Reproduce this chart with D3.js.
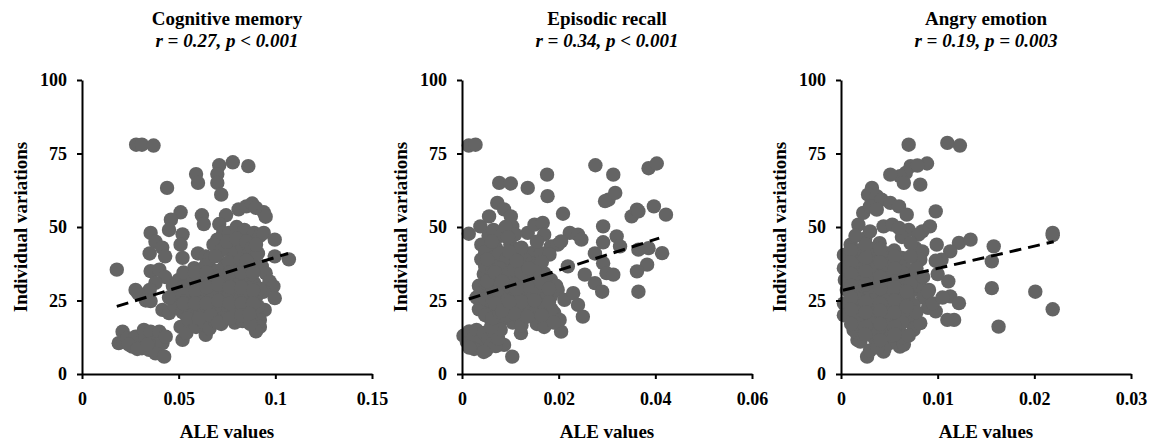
<!DOCTYPE html>
<html><head><meta charset="utf-8">
<script src="https://cdn.jsdelivr.net/npm/d3@7"></script>
<style>
body{margin:0;background:#fff}
text{font-family:"Liberation Serif","Times New Roman",serif;font-weight:bold;fill:#000}
</style>
</head><body><svg id="chart" width="1153" height="441"></svg>
<script>
// ---------- data ----------
const panelTitles = ["Cognitive memory", "Episodic recall", "Angry emotion"];
const panelStats = ["r = 0.27, p < 0.001", "r = 0.34, p < 0.001", "r = 0.19, p = 0.003"];
const xMaxes = [0.15, 0.06, 0.03];
const xTickValues = [[0, 0.05, 0.1, 0.15], [0, 0.02, 0.04, 0.06], [0, 0.01, 0.02, 0.03]];
const xTickLabels = [["0", "0.05", "0.1", "0.15"], ["0", "0.02", "0.04", "0.06"], ["0", "0.01", "0.02", "0.03"]];
const yTickValues = [0, 25, 50, 75, 100];
const xAxisTitle = "ALE values";
const yAxisTitle = "Individual variations";

const cognitiveMemory = [
[0.028,78],[0.031,78],[0.037,77.7],[0.018,35.5],[0.044,63.3],[0.059,68],[0.060,65],
[0.071,71],[0.070,68],[0.070,65],[0.072,61],[0.078,72],[0.086,70.7],[0.0745,54],[0.051,55],
[0.046,52.5],[0.045,49],[0.052,47.5],[0.051,44],[0.052,39.5],[0.0355,48],[0.038,45],[0.0415,43],
[0.043,40],[0.035,41],[0.062,54],[0.063,51],[0.060,41],[0.064,40],[0.066,39],[0.067,35.5],
[0.071,51],[0.073,48],[0.070,45.7],[0.076,48],[0.081,56],[0.085,57],[0.088,58],[0.090,56.5],
[0.094,55],[0.095,53.5],[0.080,50],[0.084,49],[0.089,48],[0.092,47],[0.094,48],[0.0997,45.7],
[0.0997,40],[0.107,39],[0.076,43.4],[0.078,41],[0.083,43.4],[0.086,40.6],[0.0745,37.7],[0.078,36.6],
[0.088,37.7],[0.093,36.6],[0.095,34.3],[0.097,31.5],[0.099,29.8],[0.094,28],[0.0997,25.8],[0.0945,21.8],
[0.092,18.4],[0.092,16],[0.090,14.5],[0.0355,35],[0.040,35.5],[0.043,33],[0.038,31],[0.035,28.6],
[0.029,27.5],[0.033,25],[0.0355,24.8],[0.0277,28.6],[0.0416,21.8],[0.045,20.7],[0.047,25],[0.049,28.6],
[0.051,16],[0.052,11.6],[0.054,14],[0.064,13.3],[0.0625,17.3],
[0.019,10.5],[0.0217,11],[0.021,14.4],[0.0234,12.2],[0.026,9.3],[0.0277,12.7],[0.0295,10.5],[0.032,15],
[0.033,12.7],[0.0355,14.4],[0.0364,10.5],[0.038,9.3],[0.040,14.4],[0.0416,10.5],[0.0433,12.7],[0.031,8.75],
[0.0347,8.2],[0.038,7],[0.0425,5.9],[0.0243,10],[0.0286,8.5],[0.0338,10],
[0.050,32],[0.053,30],[0.056,33],[0.059,31],[0.062,33],[0.065,30],[0.068,32],[0.071,29],[0.074,31],
[0.077,33],[0.080,30],[0.083,32],[0.086,29],[0.089,31],[0.051,27],[0.054,25],[0.057,28],[0.060,26],
[0.063,27],[0.066,25],[0.069,27],[0.072,24],[0.075,26],[0.078,28],[0.081,25],[0.084,27],[0.087,24],
[0.090,26],[0.092,29],[0.048,23],[0.052,21],[0.055,23],[0.058,20],[0.061,22],[0.064,20],[0.067,23],
[0.070,21],[0.073,19],[0.076,22],[0.079,20],[0.082,22],[0.085,19],[0.088,21],[0.091,23],[0.056,18],
[0.059,16],[0.063,17.5],[0.066,15.5],[0.069,18],[0.072,17],[0.075,19],[0.079,17.5],[0.083,18],[0.087,17],
[0.058,36],[0.061,35],[0.064,37],[0.070,35],[0.073,36],[0.076,38],[0.080,35],[0.084,36],[0.088,34],
[0.062,29],[0.067,28.5],[0.057,24],[0.047,30],[0.045,26],
[0.0525,34.5],[0.0585,34.5],[0.0645,34.5],[0.0705,33],[0.0765,34.5],[0.0825,34.5],[0.0885,34.5],
[0.0525,29.5],[0.0585,28.5],[0.0645,29.5],[0.0705,30.5],[0.0765,29.5],[0.0825,29.5],[0.0885,28.5],
[0.0525,24],[0.0585,24],[0.0645,24],[0.0705,25],[0.0765,24],[0.0825,24],[0.0885,24],
[0.0545,19],[0.0605,19],[0.0665,20],[0.0705,17.5],[0.0765,19],[0.0825,20],[0.0865,20.5],
[0.068,44],[0.072,42],[0.075,45],[0.080,46],[0.082,39],[0.085,45],[0.088,43],[0.091,41],[0.090,44],
[0.085,38.5],[0.069,40]
];

const episodicRecall = [
[0.0014,77.7],[0.0028,78],[0.0077,65],[0.0101,64.8],[0.0136,63.3],[0.0176,67.8],[0.0177,60.5],
[0.0276,71],[0.0313,67.8],[0.0303,59.3],[0.0296,58.8],[0.0317,61.6],[0.0386,70],[0.0403,71.6],
[0.0397,57],[0.0422,54.2],[0.0351,53.6],[0.0362,55.9],[0.0365,55.3],[0.0209,54.5],[0.0223,48],
[0.024,47.4],[0.0247,45.7],[0.0292,50.2],[0.0292,44.8],[0.032,46.8],[0.0327,43.4],[0.0275,41],
[0.0292,37.7],[0.0299,34.3],[0.0313,33.8],[0.0275,30.9],[0.029,28],[0.0365,42.3],[0.0386,42.8],
[0.0414,41.1],[0.0383,37.2],[0.0362,34.9],[0.0365,28],[0.0254,33.8],[0.0219,36.6],[0.0184,26.4],
[0.0198,28.6],[0.0212,25.2],[0.023,27.5],[0.024,23.5],[0.025,19.5],[0.0205,14.4],[0.0014,47.7],
[0.0038,50.2],[0.0056,53.6],[0.0073,58.2],[0.0087,56],[0.0101,53.6],[0.0104,50.2],[0.0136,48],
[0.015,50.8],[0.0167,51.4],[0.017,47.4],[0.0184,43.4],[0.0198,44],[0.0205,45.1],[0.0143,41.1],
[0.0143,37.7],[0.0163,41.1],[0.0181,40.6],[0.017,34.3],[0.0184,32],[0.0104,5.9],[0.0122,13.9],
[0.0087,9.9],[0.0157,20.7],[0.017,18.4],[0.0191,20.7],[0.0202,18.4],
[0.004,44],[0.0055,42],[0.007,43],[0.0085,41],[0.010,44],[0.0115,42],[0.004,39],[0.0055,37],
[0.007,38.5],[0.0085,36],[0.010,38],[0.0115,36.5],[0.013,39],[0.0045,34],[0.006,32],[0.0075,33.5],
[0.009,31],[0.0105,33],[0.012,31],[0.0135,33],[0.015,31],[0.004,28.5],[0.0055,27],[0.007,29],
[0.0085,26.5],[0.010,28],[0.0115,26],[0.013,28],[0.0145,26.5],[0.016,28.5],[0.0175,26],[0.005,23],
[0.0065,21.5],[0.008,24],[0.0095,22],[0.011,23.5],[0.0125,21],[0.014,23],[0.0155,22],[0.017,23.5],
[0.0185,22],[0.006,18.5],[0.0075,17],[0.009,19],[0.0105,17.5],[0.012,19],[0.0155,17],[0.017,16],
[0.019,17.5],[0.0035,22],[0.0035,30],[0.003,26],[0.0055,47],[0.0065,49],[0.008,47],[0.009,50],
[0.011,47.5],[0.012,40],[0.0165,38],[0.0195,30],
[0.0003,13],[0.001,11],[0.0015,14.5],[0.002,10],[0.0025,12.5],[0.003,15],[0.0035,9],[0.004,11.5],
[0.0045,14],[0.005,8],[0.0055,12],[0.006,10],[0.0065,14.5],[0.007,9.5],[0.0075,12],[0.008,15],
[0.0025,8.5],[0.0015,9],[0.0045,7.5],[0.006,16],
[0.0048,41.5],[0.0063,39.5],[0.0078,41],[0.0093,39.5],[0.0108,40.5],[0.0123,43],
[0.0048,36.5],[0.0063,35],[0.0078,36],[0.0093,34],[0.0108,35.5],[0.0123,34.5],
[0.0048,31],[0.0063,29.5],[0.0078,31],[0.0093,29],[0.0108,30.5],[0.0123,29],
[0.0048,25.5],[0.0063,24.5],[0.0078,26.5],[0.0093,25],[0.0108,26],[0.0123,24.5],
[0.0048,20],[0.0063,19],[0.0078,21],[0.0093,20],[0.0108,20.5],[0.0123,16.5],
[0.0135,19.5],[0.015,25],[0.0165,20],[0.018,24.5],[0.0135,30],[0.015,35],[0.0165,31],[0.018,29],
[0.0138,36],[0.0155,45],[0.0062,45],[0.0095,46.5],
[0.0052,31.5],[0.0068,34.5],[0.0083,31.5],[0.0098,41.5],[0.0113,29],[0.0068,24],[0.0083,21.5],
[0.0098,24.5],[0.0052,39],[0.0113,38.5]
];

const angryEmotion = [
[0.0070,78],[0.011,78.6],[0.0123,77.7],[0.0089,71.6],[0.0072,70.7],[0.0079,70.9],[0.0067,68.4],
[0.0061,67.3],[0.0065,65],[0.0051,67.8],[0.0082,64.4],[0.0032,63.3],[0.0028,61],[0.0037,60.5],
[0.0042,59.3],[0.0051,58.2],[0.006,57],[0.0068,54.2],[0.007,49],[0.0063,46.6],[0.0018,50.8],
[0.0023,54.8],[0.003,57],[0.0037,55.9],[0.0044,50.2],[0.0053,50.8],[0.006,49.7],[0.0098,55.3],
[0.0092,50.2],[0.0084,48.5],[0.008,47.4],[0.0099,44],[0.0077,42.8],[0.0084,41.7],[0.0082,38.9],
[0.0122,44.6],[0.0134,45.7],[0.0113,41.7],[0.0104,38.9],[0.0158,43.4],[0.0156,38.3],[0.0156,29.2],
[0.0163,16.1],[0.0201,28],[0.0219,48],[0.0219,47.2],[0.0219,22],[0.0111,31.5],[0.0113,26.4],
[0.0122,24.1],[0.0117,18.4],[0.011,18.4],[0.0098,21.3],[0.0091,28.6],[0.0082,32],[0.0075,28.6],
[0.0072,17.8],[0.0075,15],[0.0082,17.3],[0.0006,28.6],[0.0003,24],[0.0004,32],[0.0027,5.9],
[0.0044,7.6],[0.0061,9.3],[0.0037,10.5],[0.0017,11.6],[0.0013,15],
[0.001,44],[0.0025,46],[0.004,44.5],[0.0055,42],[0.0008,40],[0.002,41.5],[0.0035,40],[0.005,38.5],
[0.0065,37],[0.001,36],[0.0025,37],[0.004,35],[0.0055,34],[0.007,33.5],[0.0005,32],[0.002,32.5],
[0.0035,31],[0.005,30],[0.0065,31.5],[0.008,30],[0.001,28],[0.0025,27],[0.004,26.5],[0.0055,27.5],
[0.007,26],[0.0085,26],[0.0015,23.5],[0.003,22.5],[0.0045,23],[0.006,22],[0.0075,23.5],[0.009,22.5],
[0.001,19],[0.0025,18.5],[0.004,19.5],[0.0055,18],[0.007,20],[0.0015,14.5],[0.003,15.5],[0.0045,14],
[0.006,15],[0.002,11],[0.0035,12],[0.005,10.5],[0.0065,10],[0.003,8],[0.0045,8.5],[0.0015,47],
[0.003,48.5],[0.0085,33],[0.009,28],[0.0095,24],[0.0105,26],[0.010,34],[0.0098,38.5],
[0.0018,42],[0.0033,42.5],[0.0048,41],[0.0063,39.5],[0.0018,38],[0.0033,37.5],[0.0048,36],[0.0063,34.5],
[0.0018,34],[0.0033,33.5],[0.0048,32.5],[0.0063,29],[0.0018,29.5],[0.0033,28.5],[0.0048,28.5],[0.0063,25],
[0.0018,25.5],[0.0033,25],[0.0048,25],[0.0063,20],[0.0018,21],[0.0033,20.5],[0.0048,20.5],[0.0063,17.5],
[0.0018,17],[0.0033,17],[0.0048,16.5],[0.0063,12.5],[0.0023,13],[0.0038,14],[0.0052,13],[0.0038,9],
[0.0003,36],[0.0003,40.5],[0.0003,20],[0.0078,36],[0.0078,21],[0.0072,30.5],
[0.00105,42],[0.00255,44],[0.00405,42.5],[0.00555,40],[0.00105,38],[0.00255,39.5],[0.00405,38],[0.00555,36],
[0.00105,34],[0.00255,35],[0.00405,33],[0.00555,31.5],[0.00105,30],[0.00255,30.5],[0.00405,29],[0.00555,29.5],
[0.00105,26],[0.00255,24.5],[0.00405,24],[0.00555,25],[0.00105,22],[0.00255,21],[0.00405,21.5],[0.00555,21],
[0.00105,17],[0.00255,16],[0.00405,17],[0.00555,16],[0.0025,13.5],[0.00405,11.5],[0.00555,13.5],[0.007,13],
[0.0068,23],[0.0068,28],[0.0072,40],[0.0072,44.5]
];

const panelData = [cognitiveMemory, episodicRecall, angryEmotion];
const fitLines = [
  [[0.018, 23], [0.1066, 41]],
  [[0.0014, 25.5], [0.0408, 46.2]],
  [[0.0002, 28.5], [0.022, 45]]
];

// ---------- layout ----------
const svg = d3.select("#chart");
const lefts = [82, 462, 841];
const plotW = 290, plotTop = 80, plotBottom = 374;
const dotColor = "#646464";

panelData.forEach((pts, i) => {
  const x = d3.scaleLinear().domain([0, xMaxes[i]]).range([lefts[i], lefts[i] + plotW]);
  const y = d3.scaleLinear().domain([0, 100]).range([plotBottom, plotTop]);
  const g = svg.append("g");
  const cx = lefts[i] + plotW / 2;

  g.append("text").attr("x", cx).attr("y", 25).attr("text-anchor", "middle")
    .style("font-size", "19px").text(panelTitles[i]);
  g.append("text").attr("x", cx).attr("y", 47).attr("text-anchor", "middle")
    .style("font-size", "19px").style("font-style", "italic").text(panelStats[i]);

  g.append("g").selectAll("circle").data(pts).join("circle")
    .attr("cx", d => x(d[0])).attr("cy", d => y(d[1])).attr("r", 7.2)
    .attr("fill", dotColor);

  g.append("line")
    .attr("x1", x(fitLines[i][0][0])).attr("y1", y(fitLines[i][0][1]))
    .attr("x2", x(fitLines[i][1][0])).attr("y2", y(fitLines[i][1][1]))
    .attr("stroke", "#000").attr("stroke-width", 3).attr("stroke-dasharray", "12,7");

  const xa = g.append("g").attr("transform", `translate(0,${plotBottom})`)
    .call(d3.axisBottom(x).tickValues(xTickValues[i]).tickFormat((d, k) => xTickLabels[i][k])
      .tickSize(5).tickSizeOuter(0).tickPadding(13));
  const ya = g.append("g").attr("transform", `translate(${lefts[i]},0)`)
    .call(d3.axisLeft(y).tickValues(yTickValues).tickFormat(d3.format("d"))
      .tickSize(5).tickSizeOuter(0).tickPadding(10));
  [xa, ya].forEach(a => {
    a.selectAll("path,line").attr("stroke", "#000").attr("stroke-width", 2);
    a.selectAll("text").style("font-size", "18px").style("font-family", "'Liberation Serif',serif")
      .style("font-weight", "bold").attr("fill", "#000");
  });

  g.append("text").attr("x", cx).attr("y", 438).attr("text-anchor", "middle")
    .style("font-size", "19px").text(xAxisTitle);
  g.append("text").attr("transform", `translate(${lefts[i] - 55},${(plotTop + plotBottom) / 2}) rotate(-90)`)
    .attr("text-anchor", "middle").style("font-size", "19px").text(yAxisTitle);
});
</script>
</body></html>
